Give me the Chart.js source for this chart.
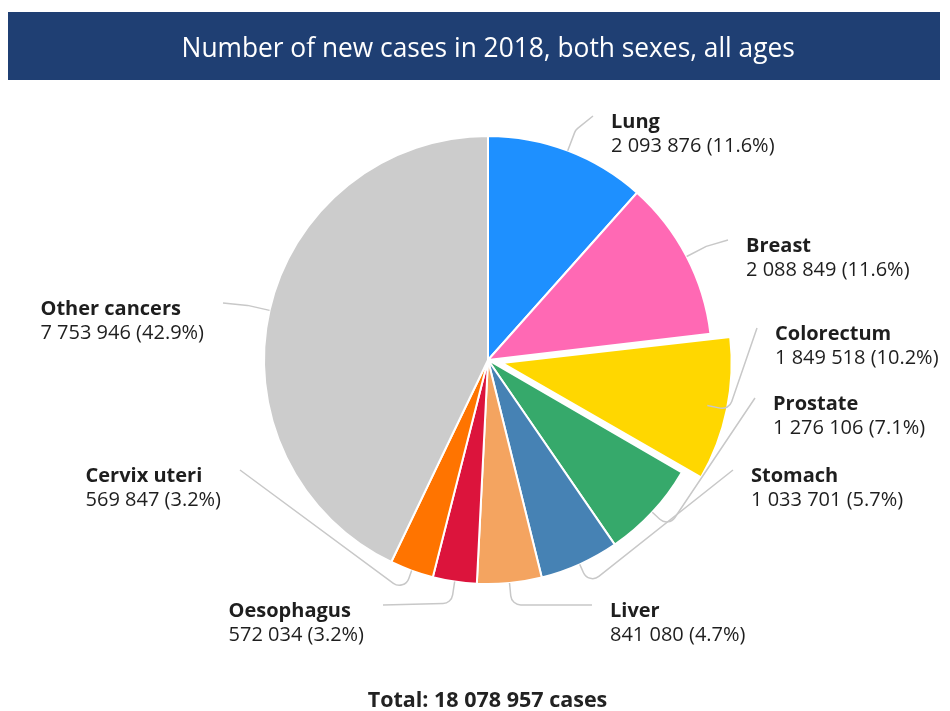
<!DOCTYPE html>
<html>
<head>
<meta charset="utf-8">
<script src="https://cdn.jsdelivr.net/npm/chart.js@4"></script>
<style>
  html, body { margin: 0; padding: 0; background: #ffffff; }
  body { width: 950px; height: 711px; position: relative; overflow: hidden; font-family: 'Open Sans', sans-serif; }
  #titlebar { position: absolute; left: 8px; top: 12px; width: 932px; height: 68px; background: #1f3f73; }
  #titletext { position: absolute; left: 0; width: 976px; top: 12px; height: 68px; line-height: 68px; text-align: center;
    color: #ffffff; font-size: 28px; }
  #titletext span { display: inline-block; transform: scaleX(0.94); transform-origin: center; }
  #wrap { position: absolute; left: 0; top: 0; width: 950px; height: 711px; }
  #total { position: absolute; left: 0; width: 975px; top: 684px; text-align: center; font-weight: bold;
    font-size: 21.5px; color: #222; line-height: 30px; }
</style>
</head>
<body>
<div id="titlebar"></div>
<div id="wrap"><canvas id="c" width="950" height="711"></canvas></div>
<div id="titletext"><span>Number of new cases in 2018, both sexes, all ages</span></div>
<div id="total">Total: 18 078 957 cases</div>
<script>
// ---- data ----
const categories = ['Lung', 'Breast', 'Colorectum', 'Prostate', 'Stomach', 'Liver', 'Oesophagus', 'Cervix uteri', 'Other cancers'];
const newCases = [2093876, 2088849, 1849518, 1276106, 1033701, 841080, 572034, 569847, 7753946];
const percentLabels = ['11.6%', '11.6%', '10.2%', '7.1%', '5.7%', '4.7%', '3.2%', '3.2%', '42.9%'];

// ---- styles / layout ----
const sliceColors = ['#1e90ff', '#ff69b4', '#ffd700', '#36a96b', '#4682b4', '#f4a460', '#dc143c', '#ff7400', '#cccccc'];
const sliceOffsets = [0, 0, 57, 0, 0, 0, 0, 0, 0];
// leader-line end points and label side
const labelAnchors = [
  {x: 593, y: 116, side: 'right'},
  {x: 728, y: 240, side: 'right'},
  {x: 757, y: 328, side: 'right'},
  {x: 755, y: 398, side: 'right'},
  {x: 733, y: 470, side: 'right'},
  {x: 592, y: 605, side: 'right'},
  {x: 383, y: 605, side: 'left'},
  {x: 240, y: 470, side: 'left'},
  {x: 223, y: 303, side: 'left'}
];

function fmt(n) {
  return String(n).replace(/\B(?=(\d{3})+(?!\d))/g, ' ');
}

const labelPlugin = {
  id: 'leaderLabels',
  afterDatasetsDraw(chart) {
    const ctx = chart.ctx;
    const meta = chart.getDatasetMeta(0);
    ctx.save();
    meta.data.forEach((arc, i) => {
      const p = arc.getProps(['x', 'y', 'startAngle', 'endAngle', 'outerRadius'], true);
      const mid = (p.startAngle + p.endAngle) / 2;
      const sx = p.x + Math.cos(mid) * p.outerRadius;
      const sy = p.y + Math.sin(mid) * p.outerRadius;
      const ex = p.x + Math.cos(mid) * (p.outerRadius + 22);
      const ey = p.y + Math.sin(mid) * (p.outerRadius + 22);
      const a = labelAnchors[i];
      ctx.beginPath();
      ctx.moveTo(sx, sy);
      ctx.arcTo(ex, ey, a.x, a.y, 10);
      ctx.lineTo(a.x, a.y);
      ctx.strokeStyle = '#c8c8c8';
      ctx.lineWidth = 1.5;
      ctx.stroke();

      const name = categories[i];
      const val = fmt(newCases[i]) + ' (' + percentLabels[i] + ')';
      ctx.textBaseline = 'middle';
      ctx.textAlign = 'left';
      ctx.font = 'bold 20px "Open Sans"';
      const w1 = ctx.measureText(name).width;
      ctx.font = '20px "Open Sans"';
      const w2 = ctx.measureText(val).width;
      const w = Math.max(w1, w2);
      const tx = a.side === 'right' ? a.x + 18 : a.x - 19 - w;
      ctx.fillStyle = '#1e1e1e';
      ctx.font = 'bold 20px "Open Sans"';
      ctx.fillText(name, tx, a.y + 6);
      ctx.font = '20px "Open Sans"';
      ctx.fillText(val, tx, a.y + 30);
    });
    ctx.restore();
  }
};

new Chart(document.getElementById('c'), {
  type: 'pie',
  data: {
    labels: categories,
    datasets: [{
      data: newCases,
      backgroundColor: sliceColors,
      borderColor: '#ffffff',
      borderWidth: 2,
      hoverBorderWidth: 2,
      offset: sliceOffsets,
      hoverOffset: sliceOffsets
    }]
  },
  options: {
    responsive: false,
    animation: false,
    events: [],
    radius: 224,
    layout: { padding: { left: 26, right: 0, top: 9, bottom: 0 } },
    plugins: { legend: { display: false }, tooltip: { enabled: false }, title: { display: false } }
  },
  plugins: [labelPlugin]
});
</script>
</body>
</html>
